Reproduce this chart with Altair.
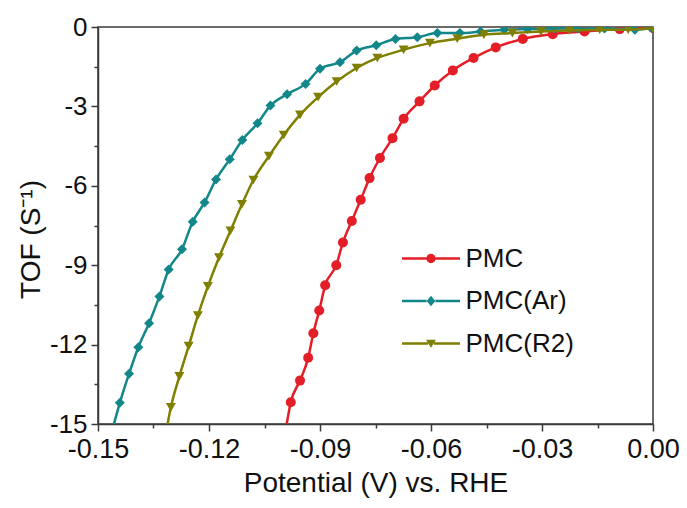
import altair as alt
import pandas as pd

# ---- data ----
series_names = ["PMC", "PMC(Ar)", "PMC(R2)"]
series_colors = ["#E31E26", "#12878A", "#7F7F00"]
series_shapes = ["circle", "diamond", "triangle-down"]

pmc_x = [-0.0990, -0.0979, -0.0954, -0.0932, -0.0918, -0.0902, -0.0886, -0.0856, -0.0838,
         -0.0814, -0.0790, -0.0766, -0.0738, -0.0704, -0.0674, -0.0631, -0.0590, -0.0541,
         -0.0485, -0.0425, -0.0352, -0.0271, -0.0185, -0.0090, 0.0]
pmc_y = [-15.0, -14.18, -13.36, -12.50, -11.57, -10.71, -9.76, -9.00, -8.14,
         -7.33, -6.53, -5.71, -4.95, -4.20, -3.47, -2.81, -2.21, -1.64,
         -1.17, -0.77, -0.45, -0.27, -0.17, -0.08, -0.04]

ar_x = [-0.1457, -0.1441, -0.1416, -0.1391, -0.1362, -0.1334, -0.1309, -0.1273, -0.1244,
        -0.1212, -0.1181, -0.1144, -0.1110, -0.1069, -0.1034, -0.0989, -0.0939, -0.0900,
        -0.0846, -0.0801, -0.0748, -0.0696, -0.0637, -0.0583, -0.0522, -0.0466, -0.0402,
        -0.0339, -0.0267, -0.0203, -0.0131, -0.0049, -0.0004]
ar_y = [-15.0, -14.2, -13.1, -12.1, -11.19, -10.18, -9.16, -8.40, -7.36,
        -6.63, -5.76, -5.00, -4.27, -3.64, -2.97, -2.54, -2.15, -1.58,
        -1.33, -0.89, -0.69, -0.45, -0.39, -0.23, -0.23, -0.17, -0.10,
        -0.08, -0.06, -0.06, -0.06, -0.10, -0.04]

r2_x = [-0.1312, -0.1303, -0.1280, -0.1255, -0.1230, -0.1203, -0.1173, -0.1142, -0.1111,
        -0.1080, -0.1038, -0.0998, -0.0954, -0.0905, -0.0855, -0.0801, -0.0745, -0.0674,
        -0.0603, -0.0529, -0.0457, -0.0380, -0.0303, -0.0226, -0.0144, -0.0067, 0.0]
r2_y = [-15.0, -14.37, -13.20, -12.06, -10.90, -9.80, -8.71, -7.70, -6.70,
        -5.78, -4.88, -4.08, -3.32, -2.65, -2.06, -1.55, -1.17, -0.86,
        -0.61, -0.44, -0.29, -0.23, -0.17, -0.13, -0.10, -0.10, -0.05]

x_major = [-0.15, -0.12, -0.09, -0.06, -0.03, 0.0]
x_minor = [-0.135, -0.105, -0.075, -0.045, -0.015]
y_major = [-15, -12, -9, -6, -3, 0]
y_minor = [-13.5, -10.5, -7.5, -4.5, -1.5]

# ---- table ----
xs = [pmc_x, ar_x, r2_x]
ys = [pmc_y, ar_y, r2_y]
rows = []
for name, sx, sy in zip(series_names, xs, ys):
    for vx, vy in zip(sx, sy):
        rows.append({"V": vx, "TOF": vy, "series": name})
df = pd.DataFrame(rows)

FONT = "Liberation Sans"
AX = "#3a3a3a"

xscale = alt.Scale(domain=[-0.15, 0.0], nice=False, zero=False)
yscale = alt.Scale(domain=[-15, 0], nice=False, zero=False)

x_axis = alt.Axis(values=x_major, orient="bottom", title="Potential (V) vs. RHE",
                  labelExpr="(datum.value < 0 ? '-' : '') + format(abs(datum.value), '.2f')",
                  grid=False, tickSize=7, tickWidth=1.5, tickColor=AX, domainColor=AX,
                  domainWidth=1.5, labelFontSize=27, labelFont=FONT, labelColor="#111",
                  labelPadding=5, titleFont=FONT, titleFontSize=28, titleFontWeight="normal",
                  titleColor="#111", titlePadding=7, labelFlush=False)
y_axis = alt.Axis(values=y_major, orient="left", title="TOF (S⁻¹)",
                  labelExpr="(datum.value < 0 ? '-' : '') + format(abs(datum.value), 'd')",
                  grid=False, tickSize=7, tickWidth=1.5, tickColor=AX, domainColor=AX,
                  domainWidth=1.5, labelFontSize=26, labelFont=FONT, labelColor="#111",
                  labelPadding=4, titleFont=FONT, titleFontSize=28, titleFontWeight="normal",
                  titleColor="#111", titlePadding=4, titleY=212, labelFlush=False)

x_minor_axis = alt.Axis(values=x_minor, orient="bottom", title=None, labels=False, grid=False,
                        tickSize=4, tickWidth=1.5, tickColor=AX, domain=False)
y_minor_axis = alt.Axis(values=y_minor, orient="left", title=None, labels=False, grid=False,
                        tickSize=4, tickWidth=1.5, tickColor=AX, domain=False)

base = alt.Chart(df)

layers = []
for i, (name, col, shp) in enumerate(zip(series_names, series_colors, series_shapes)):
    sub = base.transform_filter(alt.datum.series == name)
    enc_x = alt.X("V:Q", scale=xscale, axis=x_axis if i == 0 else None)
    enc_y = alt.Y("TOF:Q", scale=yscale, axis=y_axis if i == 0 else None)
    line = sub.mark_line(color=col, strokeWidth=2.5, interpolate="monotone", clip=True).encode(
        x=enc_x, y=enc_y, order="V:Q")
    pts = sub.transform_filter(alt.datum.TOF > -14.95).mark_point(
        shape=shp, color=col, filled=True, opacity=1, size=100, clip=True).encode(
        x=alt.X("V:Q", scale=xscale, axis=None), y=alt.Y("TOF:Q", scale=yscale, axis=None))
    layers += [line, pts]

# legend layer (no visible marks): line-plus-marker symbols
legend_paths = [
    "M-2,-0.08 L-0.3,-0.08 L-0.3,0.08 L-2,0.08 Z M0.3,-0.08 L2,-0.08 L2,0.08 L0.3,0.08 Z "
    "M-0.32,0 A0.32,0.32 0 1 1 0.32,0 A0.32,0.32 0 1 1 -0.32,0 Z",
    "M-2,-0.08 L-0.3,-0.08 L-0.3,0.08 L-2,0.08 Z M0.3,-0.08 L2,-0.08 L2,0.08 L0.3,0.08 Z "
    "M0,-0.36 L0.3,0 L0,0.36 L-0.3,0 Z",
    "M-2,-0.08 L-0.2,-0.08 L-0.2,0.08 L-2,0.08 Z M0.2,-0.08 L2,-0.08 L2,0.08 L0.2,0.08 Z "
    "M-0.34,-0.26 L0.34,-0.26 L0,0.3 Z",
]
legend_layer = base.transform_filter(alt.datum.TOF > 100).mark_point(
    filled=True, opacity=1).encode(
    x=alt.X("V:Q", scale=xscale, axis=x_minor_axis),
    y=alt.Y("TOF:Q", scale=yscale, axis=y_minor_axis),
    color=alt.Color("series:N", scale=alt.Scale(domain=series_names, range=series_colors),
                    legend=alt.Legend(title=None, orient="none", legendX=318.5, legendY=217,
                                      symbolSize=841, symbolStrokeWidth=0, symbolOpacity=1,
                                      labelFont=FONT, labelFontSize=26, labelColor="#111",
                                      labelOffset=20, rowPadding=14.5, padding=0)),
    shape=alt.Shape("series:N", scale=alt.Scale(domain=series_names, range=legend_paths)),
)

chart = alt.layer(*layers, legend_layer).resolve_axis(
    x="independent", y="independent"
).properties(
    width=555, height=397,
    autosize=alt.AutoSizeParams(type="none"),
    padding={"left": 98, "top": 27, "right": 34, "bottom": 84},
).configure_view(stroke=AX, strokeWidth=1.5)

chart.save("out.html", embed_options={"renderer": "svg", "actions": False})
